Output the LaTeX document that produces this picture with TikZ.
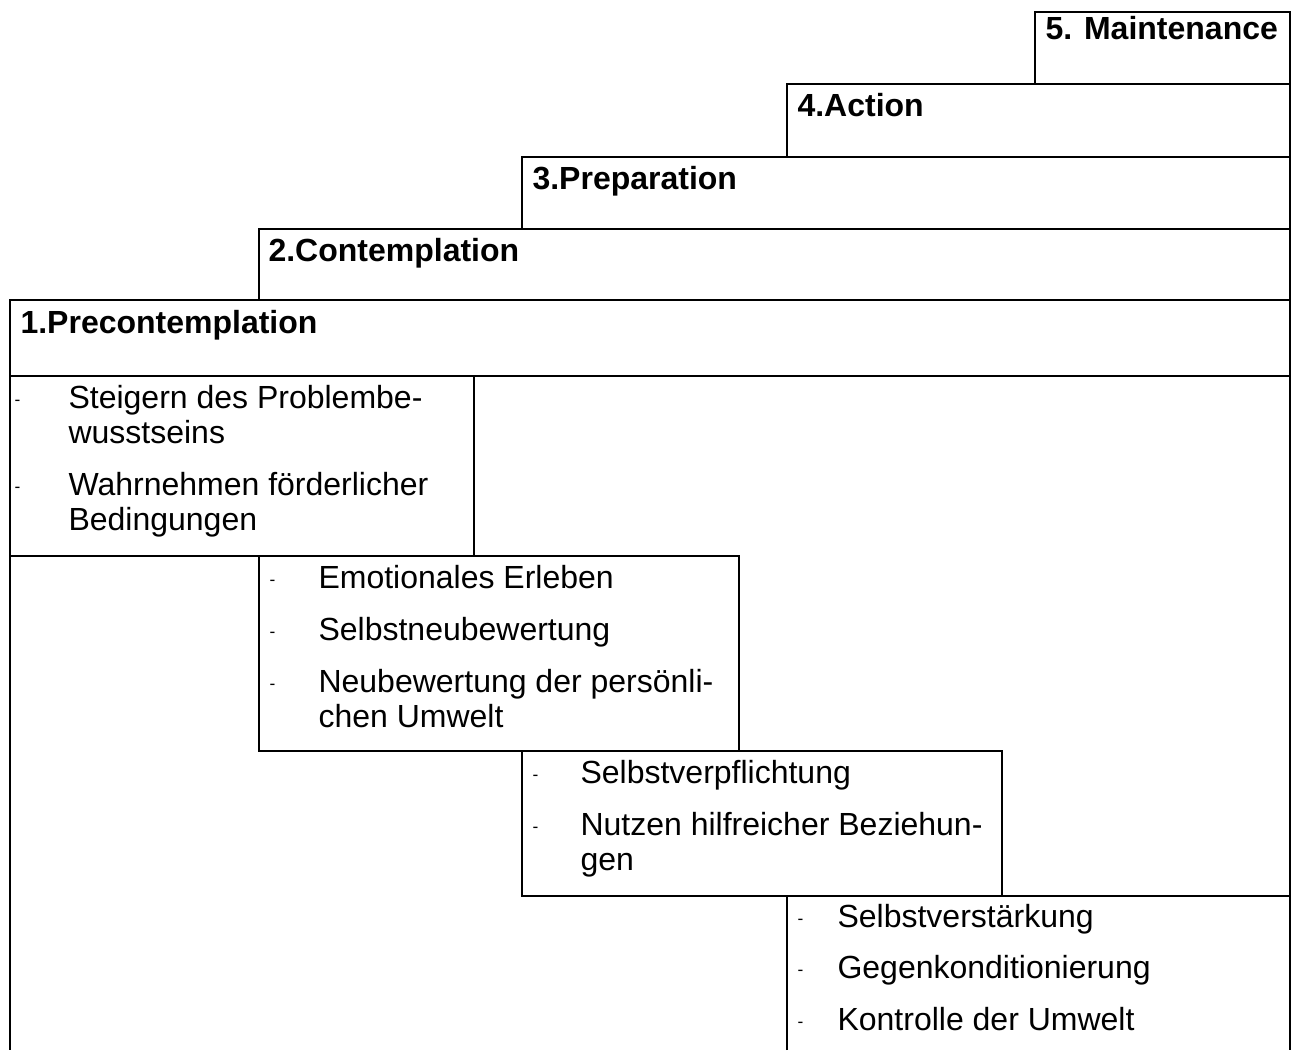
\documentclass[tikz,border=0pt]{standalone}
\usepackage{fontspec}
\setmainfont{Liberation Sans}
\usetikzlibrary{positioning}
\tikzset{
  %% 表格线
  cellbox/.style={draw=black,line width=1pt},
  %% 阶段标题
  stagelbl/.style={anchor=base west,inner sep=0pt,
                   font=\fontsize{12}{13.125}\selectfont\bfseries},
  %% 条目文字（多行时 base = 末行基线）
  itemlbl/.style={anchor=base west,inner sep=0pt,align=left,
                  font=\fontsize{12}{13.125}\selectfont},
  %% 小横线
  dashlbl/.style={anchor=base west,inner sep=0pt,
                  font=\fontsize{6.5}{7}\selectfont},
}

\begin{document}
\begin{tikzpicture}[x=0.375pt,y=-0.375pt]
    \useasboundingbox (0,0) rectangle (1292,1050);

    %% 阶梯（标题行）
    \draw[cellbox] (1035,12)  rectangle (1290,84);
    \draw[cellbox] (787,84)   rectangle (1290,157);
    \draw[cellbox] (522,157)  rectangle (1290,229);
    \draw[cellbox] (259,229)  rectangle (1290,300);
    \draw[cellbox] (10,300)   rectangle (1290,376);

    %% 条目框
    \draw[cellbox] (10,376)   rectangle (474,556);
    \draw[cellbox] (259,556)  rectangle (739,751);
    \draw[cellbox] (522,751)  rectangle (1002,896);
    \draw[cellbox] (787,1050) |- (1290,896);

    %% 外框
    \draw[cellbox] (10,376)   -- (10,1050);
    \draw[cellbox] (1290,376) -- (1290,1050);

    %% 标题
    \node[stagelbl] (S5) at (1045,39)  {5. Maintenance};
    \node[stagelbl] (S4) at (797,116)  {4.Action};
    \node[stagelbl] (S3) at (532,189)  {3.Preparation};
    \node[stagelbl] (S2) at (268,261)  {2.Contemplation};
    \node[stagelbl] (S1) at (20,333)   {1.Precontemplation};

    %% 1. Precontemplation
    \node[dashlbl] (D11) at (14,405.5)  {-};
    \node[itemlbl] (I11) at (68,443)    {Steigern des Problembe-\\wusstseins};
    \node[dashlbl] (D12) at (14,492.5)  {-};
    \node[itemlbl] (I12) at (68,530)    {Wahrnehmen förderlicher\\Bedingungen};

    %% 2. Contemplation
    \node[dashlbl] (D21) at (269,585.5) {-};
    \node[itemlbl] (I21) at (318,588)   {Emotionales Erleben};
    \node[dashlbl] (D22) at (269,637.5) {-};
    \node[itemlbl] (I22) at (318,640)   {Selbstneubewertung};
    \node[dashlbl] (D23) at (269,689.5) {-};
    \node[itemlbl] (I23) at (318,727)   {Neubewertung der persönli-\\chen Umwelt};

    %% 3. Preparation
    \node[dashlbl] (D31) at (532,780.5) {-};
    \node[itemlbl] (I31) at (580,783)   {Selbstverpflichtung};
    \node[dashlbl] (D32) at (532,832.5) {-};
    \node[itemlbl] (I32) at (580,870)   {Nutzen hilfreicher Beziehun-\\gen};

    %% 4. Action
    \node[dashlbl] (D41) at (797,924.5) {-};
    \node[itemlbl] (I41) at (837,927)   {Selbstverstärkung};
    \node[dashlbl] (D42) at (797,975.5) {-};
    \node[itemlbl] (I42) at (837,978)   {Gegenkonditionierung};
    \node[dashlbl] (D43) at (797,1027.5) {-};
    \node[itemlbl] (I43) at (837,1030)  {Kontrolle der Umwelt};
  \end{tikzpicture}
\end{document}
